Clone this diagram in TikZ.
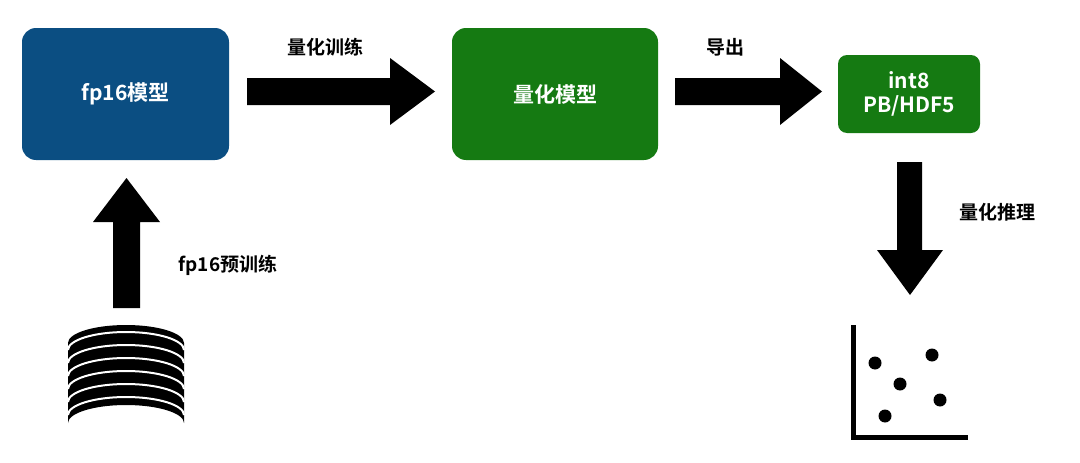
\documentclass[tikz,border=0pt]{standalone}
\usepackage{fontspec}
\newfontfamily\cjk{Noto Sans CJK SC}[BoldFont={* Bold}]
\begin{document}
\begin{tikzpicture}[x=1pt,y=-1pt,
  box/.style={rounded corners=14pt,inner sep=0pt,text=white,font=\cjk\bfseries\fontsize{21}{24}\selectfont,align=center},
  lbl/.style={font=\cjk\bfseries\fontsize{19}{22}\selectfont},
  blk/.style={fill=black}]
\useasboundingbox (0,0) rectangle (1080,463);
\node[box,fill={rgb,255:red,11;green,78;blue,130},minimum width=207pt,minimum height=132pt] (fp) at (125.5,94) {fp16模型};
\node[box,fill={rgb,255:red,21;green,122;blue,18},minimum width=206pt,minimum height=132pt] (qm) at (555,94) {量化模型};
\node[box,rounded corners=9pt,fill={rgb,255:red,21;green,122;blue,18},minimum width=142pt,minimum height=78pt] (i8) at (909,94) {int8\\PB/HDF5};
% arrows
\fill[blk] (247,78) -- (390,78) -- (390,58) -- (435,91.5) -- (390,125) -- (390,105) -- (247,105) -- cycle;
\fill[blk] (675,78) -- (780,78) -- (780,58) -- (822,91.5) -- (780,125) -- (780,105) -- (675,105) -- cycle;
\fill[blk] (113,308) -- (113,222) -- (93,222) -- (126.5,178) -- (160,222) -- (140,222) -- (140,308) -- cycle;
\fill[blk] (897,162) -- (897,250) -- (877,250) -- (910,295) -- (943,250) -- (922,250) -- (922,162) -- cycle;
\node[lbl] (l1) at (325,47) {量化训练};
\node[lbl] (l2) at (725,47) {导出};
\node[lbl] (l3) at (228,265) {fp16预训练};
\node[lbl] (l4) at (997,212) {量化推理};
% database
\fill[black] (68,343) -- (68,423) arc[start angle=180,end angle=360,x radius=58,y radius=18] -- (184,343) -- cycle;
\fill[black] (126,343) ellipse[x radius=58,y radius=18];
\foreach \d in {0,13,26,39,52,65}{
  \draw[white,line width=2pt] (68,350+\d) arc[start angle=180,end angle=360,x radius=58,y radius=18];
}
% scatter
\draw[line width=5pt] (853,325) -- (853,437) -- (968,437);
\foreach \p in {(875,363),(932,355),(900,384),(940,400),(885,416)}{\fill \p circle (6.5);}
\end{tikzpicture}
\end{document}
